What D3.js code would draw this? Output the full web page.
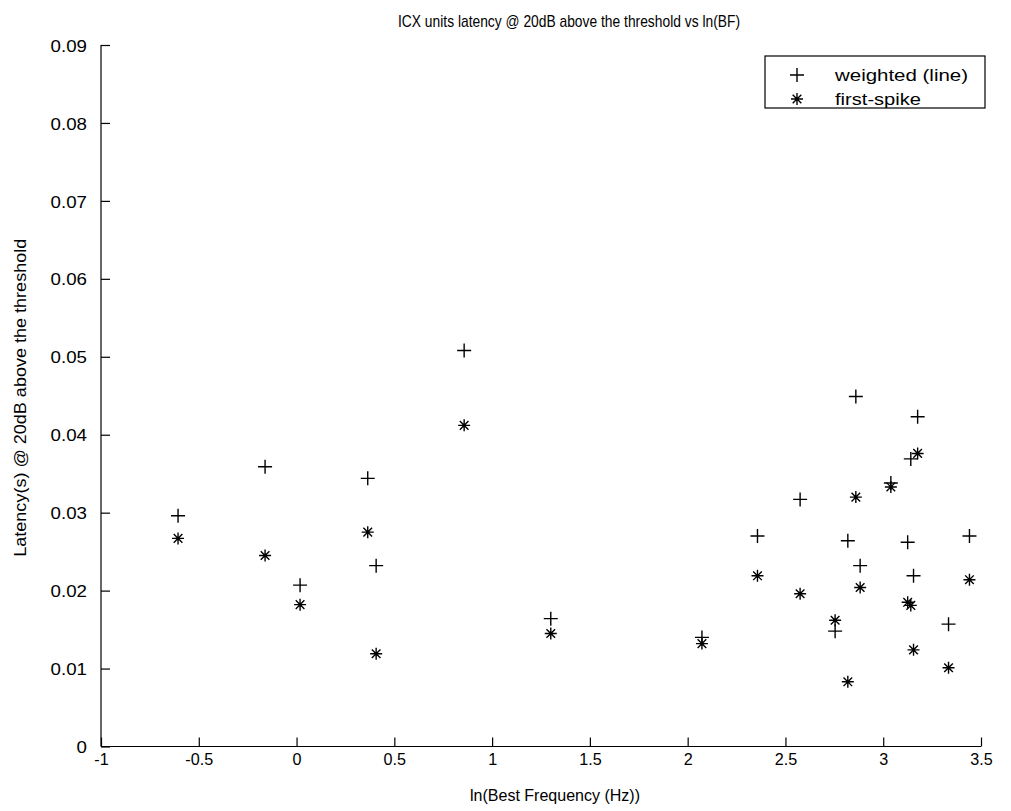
<!DOCTYPE html>
<html>
<head>
<meta charset="utf-8">
<script src="https://cdn.jsdelivr.net/npm/d3@7"></script>
<style>
  body { margin: 0; background: #fff; }
  svg text { font-family: "Liberation Sans", Arial, sans-serif; fill: #000; }
</style>
</head>
<body>
<svg id="chart" width="1011" height="811"></svg>
<script>
// ln(best frequency) of each recorded unit
const bestFreqLn = [-0.606, -0.161, 0.018, 0.364, 0.407, 0.857, 1.300, 2.073, 2.357, 2.575,
                    2.754, 2.819, 2.860, 2.882, 3.039, 3.125, 3.141, 3.155, 3.176, 3.334, 3.441];
// latency (s) measured from the weighted (line) estimate
const weightedLatency = [0.0296, 0.0359, 0.0207, 0.0344, 0.0232, 0.0508, 0.0164, 0.0140, 0.0270, 0.0317,
                         0.0148, 0.0264, 0.0449, 0.0232, 0.0338, 0.0262, 0.0369, 0.0219, 0.0423, 0.0157, 0.0270];
// latency (s) of the first spike
const firstSpikeLatency = [0.0267, 0.0245, 0.0182, 0.0275, 0.0119, 0.0412, 0.0145, 0.0132, 0.0219, 0.0196,
                           0.0162, 0.0083, 0.0320, 0.0204, 0.0333, 0.0185, 0.0181, 0.0124, 0.0376, 0.0101, 0.0214];

const xTickValues = [-1, -0.5, 0, 0.5, 1, 1.5, 2, 2.5, 3, 3.5];
const xTickLabels = ["-1", "-0.5", "0", "0.5", "1", "1.5", "2", "2.5", "3", "3.5"];
const yTickValues = [0, 0.01, 0.02, 0.03, 0.04, 0.05, 0.06, 0.07, 0.08, 0.09];
const yTickLabels = ["0", "0.01", "0.02", "0.03", "0.04", "0.05", "0.06", "0.07", "0.08", "0.09"];

const seriesNames = ["weighted (line)", "first-spike"];
const titleText = "ICX units latency @ 20dB above the threshold vs ln(BF)";
const xLabelText = "ln(Best Frequency (Hz))";
const yLabelText = "Latency(s) @ 20dB above the threshold";

const svg = d3.select("#chart");
const plot = { left: 101, right: 981, top: 45, bottom: 746.5 };

const x = d3.scaleLinear().domain([-1, 3.5]).range([plot.left, plot.right]);
const y = d3.scaleLinear().domain([0, 0.09]).range([plot.bottom, plot.top]);

const FONT = 17;

// squeeze or stretch a text element to a given advance width
function fitWidth(sel, w) {
  sel.attr("textLength", w).attr("lengthAdjust", "spacingAndGlyphs");
}
// scale a text element's natural width by a factor
function scaleWidth(sel, k) {
  sel.each(function () {
    const w = this.getComputedTextLength();
    d3.select(this).attr("textLength", w * k).attr("lengthAdjust", "spacingAndGlyphs");
  });
}

// axes with inward ticks, no box
const xAxis = d3.axisBottom(x).tickValues(xTickValues)
  .tickFormat((d, i) => xTickLabels[i]).tickSizeInner(-9).tickSizeOuter(0).tickPadding(6);
const yAxis = d3.axisLeft(y).tickValues(yTickValues)
  .tickFormat((d, i) => yTickLabels[i]).tickSizeInner(-9).tickSizeOuter(0).tickPadding(14);

const gx = svg.append("g").attr("transform", `translate(0,${plot.bottom})`).call(xAxis);
const gy = svg.append("g").attr("transform", `translate(${plot.left},0)`).call(yAxis);
[gx, gy].forEach(g => {
  g.attr("font-family", null).attr("font-size", null);
  g.select(".domain").attr("stroke", "#000").attr("stroke-width", 1.2);
  g.selectAll(".tick line").attr("stroke", "#000").attr("stroke-width", 1.2);
  g.selectAll(".tick text").attr("font-size", FONT).attr("fill", "#000");
});
gx.selectAll(".tick text").attr("dy", "0.76em").call(scaleWidth, 0.95);
gy.selectAll(".tick text").attr("dy", "0.36em").call(scaleWidth, 1.1);
gx.select(".domain").attr("d", `M${plot.left},0H${plot.right}`);
gy.select(".domain").attr("d", `M0,${plot.bottom}V${plot.top}`);

// marker shapes
const plusPath = "M-7,0H7M0,-7V7";
const r = 6, d = r * 0.72;
const starPath = `M${-r},0H${r}M0,${-r}V${r}M${-d},${-d}L${d},${d}M${-d},${d}L${d},${-d}`;

const marks = svg.append("g");
marks.selectAll("path.weighted").data(bestFreqLn).join("path")
  .attr("class", "weighted")
  .attr("transform", (v, i) => `translate(${x(v)},${y(weightedLatency[i])})`)
  .attr("d", plusPath).attr("stroke", "#000").attr("stroke-width", 1.4).attr("fill", "none");
marks.selectAll("path.first").data(bestFreqLn).join("path")
  .attr("class", "first")
  .attr("transform", (v, i) => `translate(${x(v)},${y(firstSpikeLatency[i])})`)
  .attr("d", starPath).attr("stroke", "#000").attr("stroke-width", 1.4).attr("fill", "none");

// title and axis labels
svg.append("text").attr("x", 569).attr("y", 27).attr("text-anchor", "middle")
  .attr("font-size", FONT).text(titleText).call(fitWidth, 342);
svg.append("text").attr("x", 555).attr("y", 801).attr("text-anchor", "middle")
  .attr("font-size", FONT).text(xLabelText).call(fitWidth, 170);
svg.append("text").attr("transform", `translate(26,${(plot.top + plot.bottom) / 2 + 2}) rotate(-90)`)
  .attr("text-anchor", "middle").attr("font-size", FONT).text(yLabelText).call(fitWidth, 318);

// legend
const lg = svg.append("g").attr("transform", "translate(765,56)");
lg.append("rect").attr("width", 220).attr("height", 52).attr("fill", "#fff")
  .attr("stroke", "#000").attr("stroke-width", 1.2);
const legendShapes = [plusPath, starPath];
const legendWidths = [133, 86];
seriesNames.forEach((name, i) => {
  const cy = 19 + i * 24;
  lg.append("path").attr("transform", `translate(32,${cy})`).attr("d", legendShapes[i])
    .attr("stroke", "#000").attr("stroke-width", 1.4).attr("fill", "none");
  lg.append("text").attr("x", 70).attr("y", cy + 6).attr("font-size", 16).text(name)
    .call(fitWidth, legendWidths[i]);
});
</script>
</body>
</html>
